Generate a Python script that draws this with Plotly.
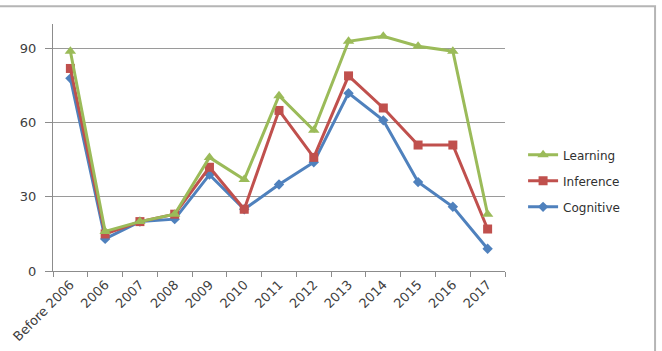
import plotly.graph_objects as go

categories = ["Before 2006", "2006", "2007", "2008", "2009", "2010", "2011",
              "2012", "2013", "2014", "2015", "2016", "2017"]
learning = [89, 16, 20, 23, 46, 37, 71, 57, 93, 95, 91, 89, 23]
inference = [82, 15, 20, 23, 42, 25, 65, 46, 79, 66, 51, 51, 17]
cognitive = [78, 13, 20, 21, 39, 25, 35, 44, 72, 61, 36, 26, 9]

series = [
    ("Learning", learning, "#9BBB59", "triangle-up", 10),
    ("Inference", inference, "#C0504D", "square", 9),
    ("Cognitive", cognitive, "#4F81BD", "diamond", 8),
]

fig = go.Figure()
for name, vals, color, sym, size in reversed(series):
    fig.add_trace(go.Scatter(
        x=categories, y=vals, name=name, mode="lines+markers",
        line=dict(color=color, width=3),
        marker=dict(symbol=sym, size=size, color=color),
        legendgroup=name, legendrank={"Learning": 1, "Inference": 2, "Cognitive": 3}[name],
    ))

fig.update_layout(
    width=662, height=351,
    margin=dict(l=53, r=157, t=24, b=80),
    paper_bgcolor="white", plot_bgcolor="white",
    font=dict(family="DejaVu Sans, Verdana, sans-serif", size=12, color="#404040"),
    showlegend=True,
    legend=dict(x=1.04, y=0.365, xanchor="left", yanchor="middle",
                tracegroupgap=7, bgcolor="rgba(0,0,0,0)",
                font=dict(size=12, color="#303030")),
    xaxis=dict(
        type="category", tickangle=-45, showgrid=False, automargin=False,
        showline=True, linecolor="#8c8c8c", linewidth=1,
        ticks="outside", tickson="boundaries", ticklen=5, tickcolor="#8c8c8c",
        range=[-0.5, 12.5], tickfont=dict(size=13),
    ),
    yaxis=dict(
        range=[0, 100], tickvals=[0, 30, 60, 90], automargin=False,
        showgrid=True, gridcolor="#9a9a9a", gridwidth=1,
        showline=True, linecolor="#8c8c8c", linewidth=1,
        ticks="outside", ticklen=7, tickcolor="#8c8c8c",
        zeroline=False, ticklabelstandoff=6, tickfont=dict(size=13),
    ),
    shapes=[dict(type="rect", xref="paper", yref="paper",
                 x0=-0.3, x1=1.332, y0=-0.5, y1=1.072,
                 line=dict(color="#b5b5b5", width=2), fillcolor="rgba(0,0,0,0)",
                 layer="below")],
)

fig.write_html("out.html")
